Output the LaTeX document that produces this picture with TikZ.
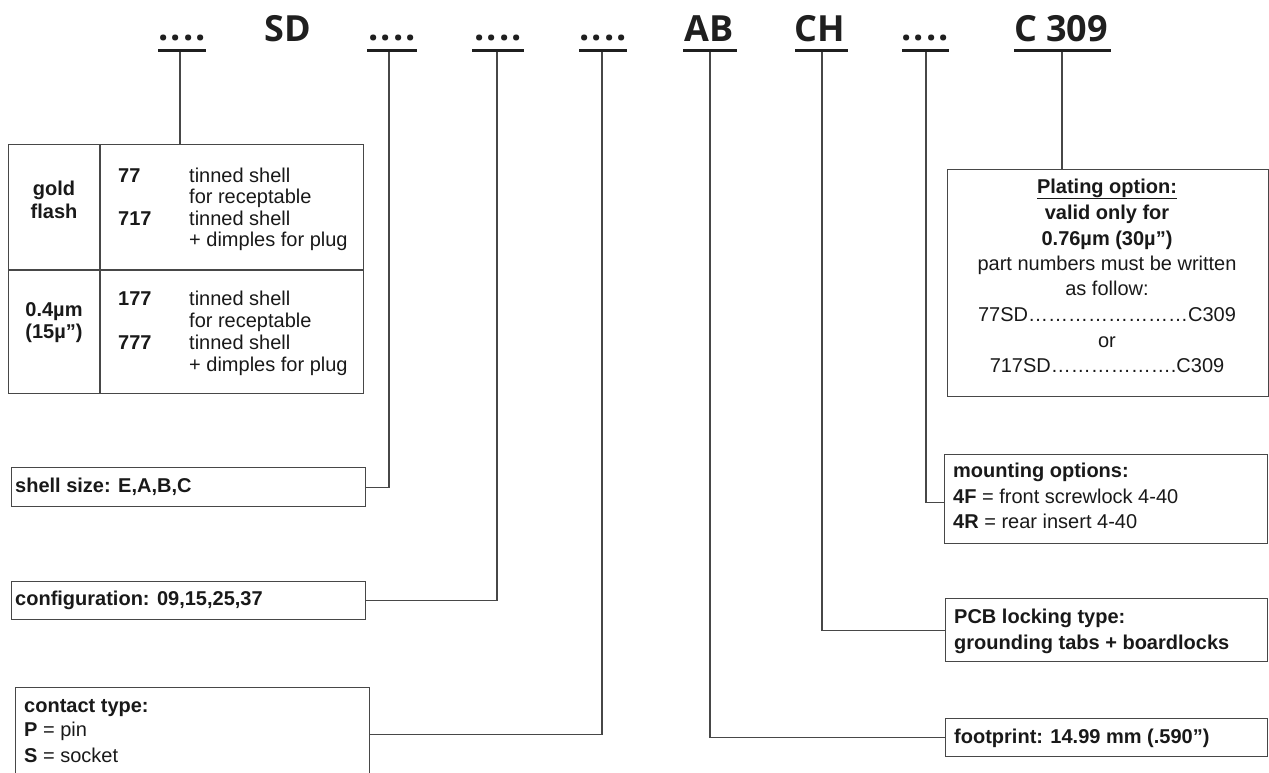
\documentclass[tikz,border=0pt]{standalone}
\usepackage{fontspec}
\setmainfont{Liberation Sans}
\newfontfamily\hdrfont{Open Sans}
\newcommand\fourdots{.\kern2.2pt.\kern2.2pt.\kern2.2pt.}
\begin{document}
\begin{tikzpicture}[x=1pt,y=-1pt,
  hdr/.style={font=\hdrfont\bfseries\fontsize{36}{40}\selectfont, anchor=base, inner sep=0pt, text=black!88},
  uline/.style={line width=3pt, black!88},
  conn/.style={line width=1.2pt, black!72},
  box/.style={draw=black!72, line width=1.4pt, anchor=north west, inner sep=0pt},
  divline/.style={line width=1.4pt, black!72},
  txt/.style={font=\fontsize{20}{22}\selectfont, anchor=base west, inner sep=0pt, text=black!90},
  btxt/.style={font=\bfseries\fontsize{20}{22}\selectfont, anchor=base west, inner sep=0pt, text=black!90},
  ctxt/.style={font=\fontsize{20}{22}\selectfont, anchor=base, inner sep=0pt, text=black!90},
  cbtxt/.style={font=\bfseries\fontsize{20}{22}\selectfont, anchor=base, inner sep=0pt, text=black!90},
]
\useasboundingbox (0,0) rectangle (1269,772);

% header
\node[hdr] (h1) at (182,40) {\fourdots};
\node[hdr] (h2) at (288,41) {SD};
\node[hdr] (h3) at (392,40) {\fourdots};
\node[hdr] (h4) at (498,40) {\fourdots};
\node[hdr] (h5) at (603,40) {\fourdots};
\node[hdr] (h6) at (709,41) {AB};
\node[hdr] (h7) at (820,41) {CH};
\node[hdr] (h8) at (925,40) {\fourdots};
\node[hdr] (h9) at (1061,41) {C 309};

\draw[uline] (158,50) -- (206,50);
\draw[uline] (367,50) -- (417,50);
\draw[uline] (472,50) -- (524,50);
\draw[uline] (579,50) -- (627,50);
\draw[uline] (683,50) -- (737,50);
\draw[uline] (795,50) -- (848,50);
\draw[uline] (902,50) -- (949,50);
\draw[uline] (1014,50) -- (1111,50);

\coordinate (c1) at (180,51.5);
\coordinate (c3) at (389,51.5);
\coordinate (c4) at (497,51.5);
\coordinate (c5) at (602,51.5);
\coordinate (c6) at (710,51.5);
\coordinate (c7) at (822,51.5);
\coordinate (c8) at (926,51.5);
\coordinate (c9) at (1062,51.5);

% table
\node[box, minimum width=355pt, minimum height=249pt] (tbl) at (8,144) {};
\draw[divline] (8,270) -- (363,270);
\draw[divline] (100,144) -- (100,393);

\node[cbtxt] (t1) at (54,195) {gold};
\node[cbtxt] (t2) at (54,218) {flash};
\node[btxt] (t3) at (118,182) {77};
\node[txt] (t4) at (189,182) {tinned shell};
\node[txt] (t5) at (189,203.5) {for receptable};
\node[btxt] (t6) at (118,225) {717};
\node[txt] (t7) at (189,225) {tinned shell};
\node[txt] (t8) at (189,246.5) {+ dimples for plug};

\node[cbtxt] (t9) at (54,316) {0.4µm};
\node[cbtxt] (t10) at (54,338) {(15µ”)};
\node[btxt] (t11) at (118,305) {177};
\node[txt] (t12) at (189,305) {tinned shell};
\node[txt] (t13) at (189,327) {for receptable};
\node[btxt] (t14) at (118,349) {777};
\node[txt] (t15) at (189,349) {tinned shell};
\node[txt] (t16) at (189,371) {+ dimples for plug};

% left boxes
\node[box, minimum width=354pt, minimum height=39pt] (shell) at (11,467) {};
\node[btxt] (s1) at (15,492) {shell size: E,A,B,C};

\node[box, minimum width=354pt, minimum height=38pt] (config) at (11,581) {};
\node[btxt] (f1) at (15,605) {configuration: 09,15,25,37};

\node[box, minimum width=354pt, minimum height=94pt] (contact) at (15,687) {};
\node[btxt] (k1) at (24,712) {contact type:};
\node[txt] (k2) at (24,736) {\textbf{P} = pin};
\node[txt] (k3) at (24,762) {\textbf{S} = socket};

% right boxes
\node[box, minimum width=321pt, minimum height=227pt] (plate) at (947,169) {};
\node[cbtxt] (p1) at (1107,193) {\underline{Plating option:}};
\node[cbtxt] (p2) at (1107,219) {valid only for};
\node[cbtxt] (p3) at (1107,245) {0.76µm (30µ”)};
\node[ctxt] (p4) at (1107,270) {part numbers must be written};
\node[ctxt] (p5) at (1107,295) {as follow:};
\node[ctxt] (p6) at (1107,321) {77SD……………………C309};
\node[ctxt] (p7) at (1107,347) {or};
\node[ctxt] (p8) at (1107,372) {717SD……………….C309};

\node[box, minimum width=323pt, minimum height=89pt] (mount) at (944,454) {};
\node[btxt] (m1) at (953,477) {mounting options:};
\node[txt] (m2) at (953,503) {\textbf{4F} = front screwlock 4-40};
\node[txt] (m3) at (953,528) {\textbf{4R} = rear insert 4-40};

\node[box, minimum width=322pt, minimum height=63pt] (pcb) at (945,598) {};
\node[btxt] (b1) at (954,623) {PCB locking type:};
\node[btxt] (b2) at (954,649) {grounding tabs + boardlocks};

\node[box, minimum width=322pt, minimum height=38pt] (foot) at (945,718) {};
\node[btxt] (o1) at (954,743) {footprint: 14.99 mm (.590”)};

% connectors
\draw[conn] (c1) -- (c1 |- tbl.north);
\draw[conn] (c3) |- (shell.east);
\draw[conn] (c4) |- (config.east);
\draw[conn] (c5) |- (contact.east);
\draw[conn] (c6) |- (foot.west);
\draw[conn] (c7) |- (pcb.west);
\draw[conn] (c8) |- ([yshift=-3.5pt]mount.west);
\draw[conn] (c9) -- (c9 |- plate.north);
\end{tikzpicture}
\end{document}
